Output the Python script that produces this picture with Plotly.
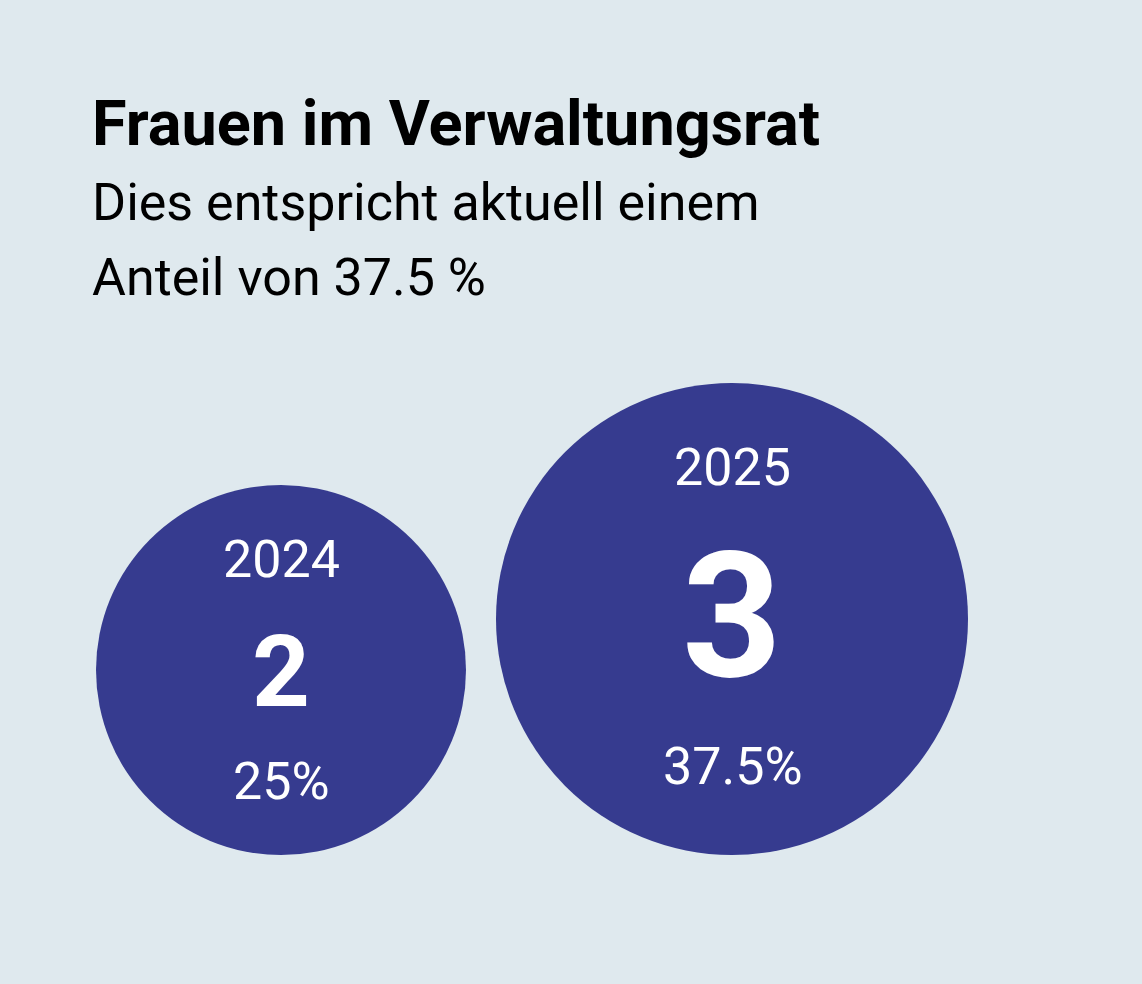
import plotly.graph_objects as go

# ---- data ----
years = ["2024", "2025"]
counts = [2, 3]
shares = ["25%", "37.5%"]

title = "Frauen im Verwaltungsrat"
subtitle_lines = ["Dies entspricht aktuell einem", "Anteil von 37.5 %"]

# ---- style ----
W, H = 1142, 984
BG = "#dfe9ee"
CIRCLE = "#363b8f"
FONT = "Roboto"
radius_px = {2: 185, 3: 236}      # design circle radius per count
number_size = {2: 101, 3: 174}    # design font size of the big number
year_off = {2: 0.595, 3: 0.64}    # year label offset (fraction of radius, above)
share_off = {2: 0.605, 3: 0.623}  # share label offset (fraction of radius, below)
num_off = {2: 1, 3: -3}           # fine vertical tweak of the big number (px)
left_edge = 96
gap = 30
bottom = 855

# compute centers
cx, cy, diam = [], [], []
x = left_edge
for c in counts:
    r = radius_px[c]
    cx.append(x + r)
    cy.append(bottom - r)
    diam.append(2 * r)
    x += 2 * r + gap

fig = go.Figure()
fig.add_trace(go.Scatter(
    x=cx, y=cy, mode="markers",
    marker=dict(size=diam, color=CIRCLE, line=dict(width=0), opacity=1),
    hoverinfo="skip", showlegend=False,
))

annotations = []
for i, (yr, c, s) in enumerate(zip(years, counts, shares)):
    r = diam[i] / 2
    annotations.append(dict(x=cx[i], y=cy[i] - year_off[c] * r, text=yr, showarrow=False,
                            xanchor="center", yanchor="middle",
                            font=dict(family=FONT, size=52, color="white")))
    annotations.append(dict(x=cx[i], y=cy[i] + num_off[c], text=f"<b>{c}</b>", showarrow=False,
                            xanchor="center", yanchor="middle",
                            font=dict(family=FONT, size=number_size[c], color="white")))
    annotations.append(dict(x=cx[i], y=cy[i] + share_off[c] * r, text=s, showarrow=False,
                            xanchor="center", yanchor="middle",
                            font=dict(family=FONT, size=52, color="white")))

annotations.append(dict(x=90, y=123, text=f"<b>{title}</b>", showarrow=False,
                        xanchor="left", yanchor="middle",
                        font=dict(family=FONT, size=63, color="#000000")))
for j, line in enumerate(subtitle_lines):
    annotations.append(dict(x=90, y=202 + 75.5 * j, text=line, showarrow=False,
                            xanchor="left", yanchor="middle",
                            font=dict(family=FONT, size=52, color="#000000")))

fig.update_layout(
    width=W, height=H,
    margin=dict(l=0, r=0, t=0, b=0),
    paper_bgcolor=BG, plot_bgcolor=BG,
    xaxis=dict(range=[0, W], visible=False, fixedrange=True),
    yaxis=dict(range=[H, 0], visible=False, fixedrange=True),
    annotations=annotations,
)

fig.write_html(
    "out.html",
    config={"displayModeBar": False},
    post_script=(
        "document.body.style.margin='0';"
        "document.body.style.padding='0';"
        "document.body.style.overflow='hidden';"
        f"document.body.style.background='{BG}';"
    ),
)
